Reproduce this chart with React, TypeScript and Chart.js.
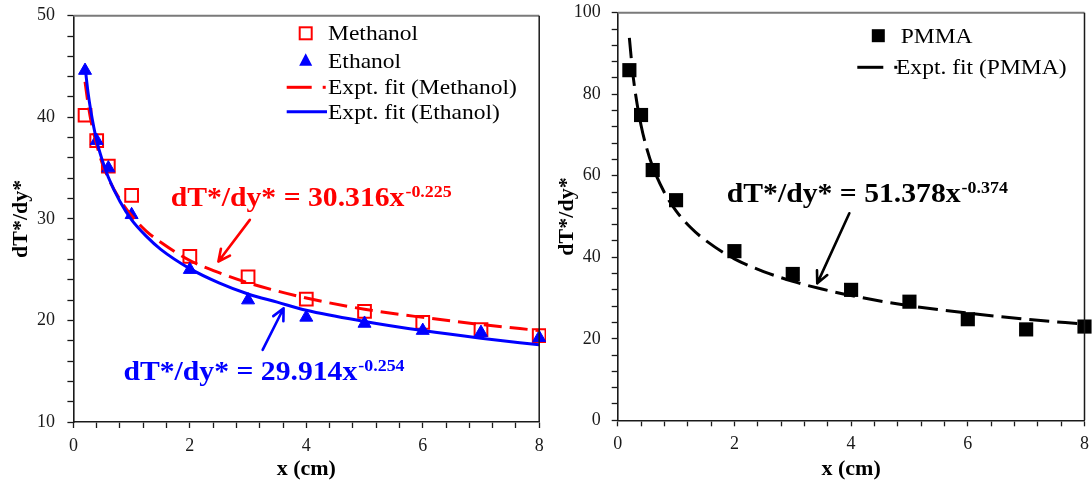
import React, { useEffect, useRef } from 'react';
import { Chart, registerables } from 'chart.js';

Chart.register(...registerables);

// ---------- data ----------
const pointX = [0.2, 0.4, 0.6, 1, 2, 3, 4, 5, 6, 7, 8];
const methanol = [40.2, 37.7, 35.2, 32.3, 26.3, 24.3, 22.1, 20.9, 19.8, 19.1, 18.5];
const ethanol = [44.6, 37.7, 35.0, 30.4, 25.0, 22.0, 20.3, 19.7, 19.0, 18.8, 18.3];
const pmma = [85.9, 74.9, 61.4, 54.0, 41.5, 35.9, 32.0, 29.1, 24.8, 22.3, 23.0];

const fitX = [0.2, 0.25, 0.3, 0.4, 0.5, 0.6, 0.8, 1, 1.25, 1.5, 2, 2.5, 3, 3.5, 4, 5, 6, 7, 8];
const methanolFit = [43.5, 41.4, 39.7, 37.3, 35.4, 34.0, 31.9, 30.3, 28.8, 27.7, 25.9, 24.7, 23.7, 22.9, 22.2, 21.1, 20.3, 19.6, 19.0];
const ethanolFit = [45.0, 42.5, 40.6, 37.7, 35.7, 34.1, 31.7, 29.9, 28.3, 27.0, 25.1, 23.7, 22.6, 21.8, 21.0, 19.9, 19.0, 18.25, 17.6];
const pmmaFit = [93.8, 86.3, 80.6, 72.4, 66.6, 62.2, 55.9, 51.4, 47.3, 44.2, 39.6, 36.5, 34.1, 32.2, 30.6, 28.1, 26.3, 24.8, 23.6];

const xTickLabels = ['0', '2', '4', '6', '8'];
const leftYTickLabels = ['10', '20', '30', '40', '50'];
const rightYTickLabels = ['0', '20', '40', '60', '80', '100'];

const xTitle = 'x (cm)';
const yTitle = 'dT*/dy*';

const leftLegend = ['Methanol', 'Ethanol', 'Expt. fit (Methanol)', 'Expt. fit (Ethanol)'];
const rightLegend = ['PMMA', 'Expt. fit (PMMA)'];

const methanolEq = { main: 'dT*/dy* = 30.316x', sup: '-0.225', x: 1.67, y: 31.3 };
const ethanolEq = { main: 'dT*/dy* = 29.914x', sup: '-0.254', x: 0.86, y: 14.14 };
const pmmaEq = { main: 'dT*/dy* = 51.378x', sup: '-0.374', x: 1.87, y: 53.6 };

const methanolArrow = { x1: 3.03, y1: 29.9, x2: 2.49, y2: 25.8 };
const ethanolArrow = { x1: 3.25, y1: 17.1, x2: 3.61, y2: 21.2 };
const pmmaArrow = { x1: 3.97, y1: 50.8, x2: 3.42, y2: 33.6 };

// ---------- styling ----------
const SERIF = '"Liberation Serif", "Times New Roman", serif';
const RED = '#ff0000';
const BLUE = '#0000ff';
const BLACK = '#000000';
const AXIS = '#1a1a1a';
const STRETCH = 1.12;

const pts = (xs: number[], ys: number[]) => xs.map((x, i) => ({ x, y: ys[i] }));

function tickCb(labels: string[]) {
  return (v: number | string) => {
    const n = Number(v);
    const r = Math.round(n);
    if (Math.abs(n - r) < 1e-6 && labels.includes(String(r))) return String(r);
    return '';
  };
}

function stretchText(ctx: CanvasRenderingContext2D, text: string, x: number, y: number, font: string, color: string) {
  ctx.save();
  ctx.font = font;
  ctx.fillStyle = color;
  ctx.textBaseline = 'alphabetic';
  ctx.textAlign = 'left';
  ctx.translate(x, y);
  ctx.scale(STRETCH, 1);
  ctx.fillText(text, 0, 0);
  const w = ctx.measureText(text).width * STRETCH;
  ctx.restore();
  return w;
}

function drawEquation(chart: any, eq: { main: string; sup: string; x: number; y: number }, color: string) {
  const { ctx, scales } = chart;
  const px = scales.x.getPixelForValue(eq.x);
  const py = scales.y.getPixelForValue(eq.y);
  const w = stretchText(ctx, eq.main, px, py, `bold 26.5px ${SERIF}`, color);
  stretchText(ctx, eq.sup, px + w + 1, py - 9, `bold 16px ${SERIF}`, color);
}

function drawArrow(chart: any, a: { x1: number; y1: number; x2: number; y2: number }, color: string) {
  const { ctx, scales } = chart;
  const x1 = scales.x.getPixelForValue(a.x1);
  const y1 = scales.y.getPixelForValue(a.y1);
  const x2 = scales.x.getPixelForValue(a.x2);
  const y2 = scales.y.getPixelForValue(a.y2);
  const ang = Math.atan2(y2 - y1, x2 - x1);
  const head = 13;
  const spread = 0.45;
  ctx.save();
  ctx.strokeStyle = color;
  ctx.lineWidth = 2.6;
  ctx.lineCap = 'round';
  ctx.lineJoin = 'round';
  ctx.beginPath();
  ctx.moveTo(x1, y1);
  ctx.lineTo(x2, y2);
  ctx.moveTo(x2 - head * Math.cos(ang - spread), y2 - head * Math.sin(ang - spread));
  ctx.lineTo(x2, y2);
  ctx.lineTo(x2 - head * Math.cos(ang + spread), y2 - head * Math.sin(ang + spread));
  ctx.stroke();
  ctx.restore();
}

function drawFrame(chart: any) {
  const { ctx, chartArea } = chart;
  const { left, right, top, bottom } = chartArea;
  ctx.save();
  ctx.lineWidth = 2;
  ctx.strokeStyle = '#7a7a7a';
  ctx.beginPath();
  ctx.moveTo(left, top);
  ctx.lineTo(right, top);
  ctx.stroke();
  ctx.strokeStyle = AXIS;
  ctx.lineWidth = 1.5;
  ctx.beginPath();
  ctx.moveTo(right, top);
  ctx.lineTo(right, bottom);
  ctx.stroke();
  ctx.restore();
}

const LEGEND_FONT = `21px ${SERIF}`;

function legendLine(ctx: CanvasRenderingContext2D, x1: number, x2: number, y: number, color: string, dashed: boolean) {
  ctx.save();
  ctx.strokeStyle = color;
  ctx.lineWidth = 3;
  ctx.beginPath();
  ctx.moveTo(x1, y);
  ctx.lineTo(x2, y);
  ctx.stroke();
  ctx.restore();
  if (dashed) {
    ctx.save();
    ctx.fillStyle = color;
    ctx.fillRect(x2 + 11, y - 1.5, 3, 3);
    ctx.restore();
  }
}

const leftPlugin = {
  id: 'leftAnnot',
  afterDatasetsDraw(chart: any) {
    const { ctx } = chart;
    drawFrame(chart);
    // legend
    const sx = 305.7;
    const tx = 328;
    const rows = [33.3, 60.7, 87.3, 111.7];
    ctx.save();
    ctx.strokeStyle = RED;
    ctx.lineWidth = 2;
    ctx.strokeRect(sx - 6, rows[0] - 6, 12, 12);
    ctx.fillStyle = BLUE;
    ctx.beginPath();
    ctx.moveTo(sx, rows[1] - 7.5);
    ctx.lineTo(sx + 6.5, rows[1] + 5);
    ctx.lineTo(sx - 6.5, rows[1] + 5);
    ctx.closePath();
    ctx.fill();
    ctx.restore();
    legendLine(ctx, 286.7, 311.7, rows[2], RED, true);
    legendLine(ctx, 286.7, 327, rows[3], BLUE, false);
    leftLegend.forEach((t, i) => stretchText(ctx, t, tx, rows[i] + 7, LEGEND_FONT, BLACK));
    // equations and arrows
    drawEquation(chart, methanolEq, RED);
    drawEquation(chart, ethanolEq, BLUE);
    drawArrow(chart, methanolArrow, RED);
    drawArrow(chart, ethanolArrow, BLUE);
  },
};

const rightPlugin = {
  id: 'rightAnnot',
  afterDatasetsDraw(chart: any) {
    const { ctx } = chart;
    drawFrame(chart);
    const sx = 878.3 - 546;
    const rows = [35.7, 67.3];
    ctx.save();
    ctx.fillStyle = BLACK;
    ctx.fillRect(sx - 6.5, rows[0] - 6.5, 13, 13);
    ctx.restore();
    legendLine(ctx, 857.3 - 546, 883.3 - 546, rows[1], BLACK, true);
    stretchText(ctx, rightLegend[0], 900.7 - 546, rows[0] + 7, LEGEND_FONT, BLACK);
    stretchText(ctx, rightLegend[1], 896 - 546, rows[1] + 7, LEGEND_FONT, BLACK);
    drawEquation(chart, pmmaEq, BLACK);
    drawArrow(chart, pmmaArrow, BLACK);
  },
};

function makeScales(opts: {
  yMin: number; yMax: number; yStep: number; yLabels: string[]; yWidth: number; xHeight: number; yPad: number;
}) {
  const tickFont = { family: SERIF, size: 18 };
  const titleFont = { family: SERIF, size: 22, weight: 'bold' as const };
  return {
    x: {
      type: 'linear' as const,
      min: 0,
      max: 8,
      afterFit: (s: any) => {
        s.height = opts.xHeight;
        s.paddingLeft = 0; s.paddingRight = 0; s.paddingTop = 0; s.paddingBottom = 0;
      },
      ticks: {
        stepSize: 0.4,
        autoSkip: false,
        maxRotation: 0,
        minRotation: 0,
        padding: 7,
        color: AXIS,
        font: tickFont,
        callback: tickCb(xTickLabels),
      },
      grid: { drawOnChartArea: false, drawTicks: true, tickLength: 6, tickColor: AXIS, tickWidth: 1.3 },
      border: { display: true, color: AXIS, width: 1.6 },
      title: { display: true, text: xTitle, color: BLACK, font: titleFont, padding: { top: 0, bottom: 4 } },
    },
    y: {
      type: 'linear' as const,
      min: opts.yMin,
      max: opts.yMax,
      afterFit: (s: any) => {
        s.width = opts.yWidth;
        s.paddingLeft = 0; s.paddingRight = 0; s.paddingTop = 0; s.paddingBottom = 0;
      },
      ticks: {
        stepSize: opts.yStep,
        autoSkip: false,
        padding: opts.yPad,
        color: AXIS,
        font: tickFont,
        callback: tickCb(opts.yLabels),
      },
      grid: { drawOnChartArea: false, drawTicks: true, tickLength: 6, tickColor: AXIS, tickWidth: 1.3 },
      border: { display: true, color: AXIS, width: 1.6 },
      title: { display: true, text: yTitle, color: BLACK, font: titleFont, padding: { top: 7.7, bottom: 0 } },
    },
  };
}

function LeftChart() {
  const ref = useRef<HTMLCanvasElement>(null);
  useEffect(() => {
    if (!ref.current) return;
    const chart = new Chart(ref.current, {
      type: 'line',
      data: {
        datasets: [
          {
            label: leftLegend[3],
            data: pts(fitX, ethanolFit),
            borderColor: BLUE,
            borderWidth: 3,
            pointRadius: 0,
            cubicInterpolationMode: 'monotone',
            fill: false,
          },
          {
            label: leftLegend[2],
            data: pts(fitX, methanolFit),
            borderColor: RED,
            borderWidth: 3,
            borderDash: [18, 8],
            pointRadius: 0,
            cubicInterpolationMode: 'monotone',
            fill: false,
          },
          {
            label: leftLegend[1],
            data: pts(pointX, ethanol),
            showLine: false,
            pointStyle: 'triangle',
            pointRadius: 7.5,
            pointBackgroundColor: BLUE,
            pointBorderColor: BLUE,
            pointBorderWidth: 1,
            clip: false as any,
          },
          {
            label: leftLegend[0],
            data: pts(pointX, methanol),
            showLine: false,
            pointStyle: 'rect',
            pointRadius: 9,
            pointBackgroundColor: 'rgba(0,0,0,0)',
            pointBorderColor: RED,
            pointBorderWidth: 2,
            clip: false as any,
          },
        ],
      },
      options: {
        responsive: false,
        animation: false,
        devicePixelRatio: 1,
        layout: { autoPadding: false, padding: { left: 0, top: 15.7, right: 6.8, bottom: 0 } },
        plugins: { legend: { display: false }, tooltip: { enabled: false } },
        scales: makeScales({ yMin: 10, yMax: 50, yStep: 2, yLabels: leftYTickLabels, yWidth: 73.4, xHeight: 65, yPad: 12.4 }) as any,
      },
      plugins: [leftPlugin],
    });
    return () => chart.destroy();
  }, []);
  return <canvas ref={ref} width={546} height={487} style={{ display: 'block' }} />;
}

function RightChart() {
  const ref = useRef<HTMLCanvasElement>(null);
  useEffect(() => {
    if (!ref.current) return;
    const chart = new Chart(ref.current, {
      type: 'line',
      data: {
        datasets: [
          {
            label: rightLegend[1],
            data: pts(fitX, pmmaFit),
            borderColor: BLACK,
            borderWidth: 3,
            borderDash: [20, 8],
            pointRadius: 0,
            cubicInterpolationMode: 'monotone',
            fill: false,
          },
          {
            label: rightLegend[0],
            data: pts(pointX, pmma),
            showLine: false,
            pointStyle: 'rect',
            pointRadius: 10,
            pointBackgroundColor: BLACK,
            pointBorderColor: BLACK,
            pointBorderWidth: 0,
            clip: false as any,
          },
        ],
      },
      options: {
        responsive: false,
        animation: false,
        devicePixelRatio: 1,
        layout: { autoPadding: false, padding: { left: 0, top: 12.7, right: 7.5, bottom: 0 } },
        plugins: { legend: { display: false }, tooltip: { enabled: false } },
        scales: makeScales({ yMin: 0, yMax: 100, yStep: 4, yLabels: rightYTickLabels, yWidth: 71.7, xHeight: 66.7, yPad: 11 }) as any,
      },
      plugins: [rightPlugin],
    });
    return () => chart.destroy();
  }, []);
  return <canvas ref={ref} width={546} height={487} style={{ display: 'block' }} />;
}

export default function App() {
  return (
    <div
      style={{
        position: 'fixed',
        left: 0,
        top: 0,
        width: 1092,
        height: 487,
        display: 'flex',
        background: '#ffffff',
        overflow: 'hidden',
      }}
    >
      <LeftChart />
      <RightChart />
    </div>
  );
}
